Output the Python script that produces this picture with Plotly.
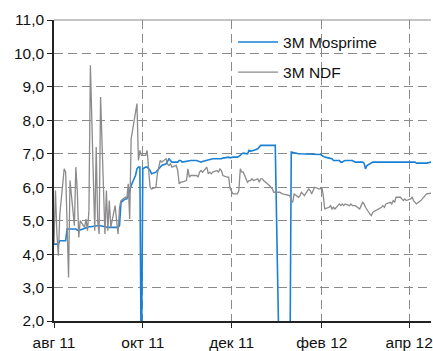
import plotly.graph_objects as go

# 3M MosPrime fixing, % (zero prints on non-fixing days)
mosprime_dates = [
    "2011-08-01", "2011-08-02", "2011-08-03", "2011-08-04", "2011-08-05",
    "2011-08-08", "2011-08-09", "2011-08-10", "2011-08-11", "2011-08-12",
    "2011-08-15", "2011-08-16", "2011-08-17", "2011-08-18", "2011-08-19",
    "2011-08-22", "2011-08-23", "2011-08-24", "2011-08-25", "2011-08-26",
    "2011-08-29", "2011-08-30", "2011-08-31", "2011-09-01", "2011-09-02",
    "2011-09-05", "2011-09-06", "2011-09-07", "2011-09-08", "2011-09-09",
    "2011-09-12", "2011-09-13", "2011-09-14", "2011-09-15", "2011-09-16",
    "2011-09-19", "2011-09-20", "2011-09-21", "2011-09-22", "2011-09-23",
    "2011-09-26", "2011-09-27", "2011-09-28", "2011-09-29", "2011-09-30",
    "2011-10-01", "2011-10-03", "2011-10-04", "2011-10-05", "2011-10-06",
    "2011-10-07", "2011-10-10", "2011-10-11", "2011-10-12", "2011-10-13",
    "2011-10-14", "2011-10-17", "2011-10-18", "2011-10-19", "2011-10-20",
    "2011-10-21", "2011-10-24", "2011-10-25", "2011-10-26", "2011-10-27",
    "2011-10-28", "2011-10-31", "2011-11-01", "2011-11-02", "2011-11-03",
    "2011-11-07", "2011-11-08", "2011-11-09", "2011-11-10", "2011-11-11",
    "2011-11-14", "2011-11-15", "2011-11-16", "2011-11-17", "2011-11-18",
    "2011-11-21", "2011-11-22", "2011-11-23", "2011-11-24", "2011-11-25",
    "2011-11-28", "2011-11-29", "2011-11-30", "2011-12-01", "2011-12-02",
    "2011-12-05", "2011-12-06", "2011-12-07", "2011-12-08", "2011-12-09",
    "2011-12-12", "2011-12-13", "2011-12-14", "2011-12-15", "2011-12-16",
    "2011-12-19", "2011-12-20", "2011-12-21", "2011-12-22", "2011-12-23",
    "2011-12-26", "2011-12-27", "2011-12-28", "2011-12-29", "2011-12-30",
    "2011-12-31", "2012-01-03", "2012-01-10", "2012-01-11", "2012-01-12",
    "2012-01-13", "2012-01-16", "2012-01-17", "2012-01-18", "2012-01-19",
    "2012-01-20", "2012-01-23", "2012-01-24", "2012-01-25", "2012-01-26",
    "2012-01-27", "2012-01-30", "2012-01-31", "2012-02-01", "2012-02-02",
    "2012-02-03", "2012-02-06", "2012-02-07", "2012-02-08", "2012-02-09",
    "2012-02-10", "2012-02-13", "2012-02-14", "2012-02-15", "2012-02-16",
    "2012-02-17", "2012-02-20", "2012-02-21", "2012-02-22", "2012-02-24",
    "2012-02-27", "2012-02-28", "2012-02-29", "2012-03-01", "2012-03-02",
    "2012-03-03", "2012-03-05", "2012-03-06", "2012-03-07", "2012-03-12",
    "2012-03-19", "2012-03-26", "2012-04-02", "2012-04-05", "2012-04-06",
    "2012-04-09", "2012-04-13", "2012-04-16",
]
mosprime_values = [
    4.30, 4.30, 4.30, 4.30, 4.40,
    4.40, 4.40, 4.75, 4.75, 4.75,
    4.75, 4.75, 4.72, 4.70, 4.72,
    4.78, 4.78, 4.80, 4.82, 4.82,
    4.85, 4.85, 4.85, 4.85, 4.85,
    4.82, 4.80, 4.80, 4.80, 4.80,
    4.80, 4.80, 4.80, 4.85, 5.55,
    5.65, 5.65, 5.75, 5.90, 6.05,
    6.35, 6.55, 6.60, 6.60, 0.00,
    6.55, 6.60, 6.60, 6.55, 6.50,
    6.40, 6.45, 6.50, 6.55, 6.60,
    6.65, 6.70, 6.80, 6.85, 6.80,
    6.75, 6.75, 6.75, 6.80, 6.80,
    6.75, 6.78, 6.80, 6.80, 6.80,
    6.80, 6.78, 6.75, 6.75, 6.77,
    6.80, 6.80, 6.82, 6.82, 6.85,
    6.85, 6.85, 6.83, 6.85, 6.87,
    6.90, 6.90, 6.88, 6.90, 6.90,
    6.90, 6.92, 6.95, 7.00, 7.02,
    7.00, 7.10, 7.08, 7.10, 7.10,
    7.15, 7.22, 7.25, 7.25, 7.25,
    7.25, 7.25, 7.25, 7.25, 7.25,
    7.25, 0.00, 0.00, 7.05, 7.05,
    7.03, 7.00, 7.00, 7.00, 7.00,
    6.98, 7.00, 7.00, 7.00, 7.00,
    7.00, 7.00, 6.98, 6.95, 6.92,
    6.90, 6.87, 6.85, 6.85, 6.80,
    6.80, 6.80, 6.75, 6.75, 6.78,
    6.80, 6.80, 6.80, 6.80, 6.75,
    6.75, 6.75, 6.75, 6.72, 6.55,
    6.65, 6.70, 6.72, 6.75, 6.75,
    6.75, 6.75, 6.75, 6.75, 6.72,
    6.72, 6.72, 6.75,
]

# 3M NDF implied yield, %
ndf_dates = [
    "2011-08-01", "2011-08-02", "2011-08-03", "2011-08-04", "2011-08-05",
    "2011-08-08", "2011-08-09", "2011-08-10", "2011-08-11", "2011-08-12",
    "2011-08-15", "2011-08-16", "2011-08-17", "2011-08-18", "2011-08-19",
    "2011-08-22", "2011-08-23", "2011-08-24", "2011-08-25", "2011-08-26",
    "2011-08-29", "2011-08-30", "2011-08-31", "2011-09-01", "2011-09-02",
    "2011-09-05", "2011-09-06", "2011-09-07", "2011-09-08", "2011-09-09",
    "2011-09-12", "2011-09-13", "2011-09-14", "2011-09-15", "2011-09-16",
    "2011-09-19", "2011-09-20", "2011-09-21", "2011-09-22", "2011-09-23",
    "2011-09-26", "2011-09-27", "2011-09-28", "2011-09-29", "2011-09-30",
    "2011-10-03", "2011-10-04", "2011-10-05", "2011-10-06", "2011-10-07",
    "2011-10-10", "2011-10-11", "2011-10-12", "2011-10-13", "2011-10-14",
    "2011-10-17", "2011-10-18", "2011-10-19", "2011-10-20", "2011-10-21",
    "2011-10-24", "2011-10-25", "2011-10-26", "2011-10-27", "2011-10-28",
    "2011-10-31", "2011-11-01", "2011-11-02", "2011-11-03", "2011-11-07",
    "2011-11-08", "2011-11-09", "2011-11-10", "2011-11-11", "2011-11-14",
    "2011-11-15", "2011-11-16", "2011-11-17", "2011-11-18", "2011-11-21",
    "2011-11-22", "2011-11-23", "2011-11-24", "2011-11-25", "2011-11-28",
    "2011-11-29", "2011-11-30", "2011-12-01", "2011-12-02", "2011-12-05",
    "2011-12-06", "2011-12-07", "2011-12-08", "2011-12-09", "2011-12-12",
    "2011-12-13", "2011-12-14", "2011-12-15", "2011-12-16", "2011-12-19",
    "2011-12-20", "2011-12-21", "2011-12-22", "2011-12-23", "2011-12-26",
    "2011-12-27", "2011-12-28", "2011-12-29", "2011-12-30", "2012-01-03",
    "2012-01-05", "2012-01-09", "2012-01-10", "2012-01-11", "2012-01-12",
    "2012-01-13", "2012-01-16", "2012-01-17", "2012-01-18", "2012-01-19",
    "2012-01-20", "2012-01-23", "2012-01-24", "2012-01-25", "2012-01-26",
    "2012-01-27", "2012-01-30", "2012-01-31", "2012-02-01", "2012-02-02",
    "2012-02-03", "2012-02-06", "2012-02-07", "2012-02-08", "2012-02-09",
    "2012-02-10", "2012-02-13", "2012-02-14", "2012-02-15", "2012-02-16",
    "2012-02-17", "2012-02-20", "2012-02-21", "2012-02-22", "2012-02-24",
    "2012-02-27", "2012-02-28", "2012-02-29", "2012-03-01", "2012-03-02",
    "2012-03-05", "2012-03-06", "2012-03-07", "2012-03-09", "2012-03-12",
    "2012-03-13", "2012-03-14", "2012-03-15", "2012-03-16", "2012-03-19",
    "2012-03-20", "2012-03-21", "2012-03-22", "2012-03-23", "2012-03-26",
    "2012-03-27", "2012-03-28", "2012-03-29", "2012-03-30", "2012-04-02",
    "2012-04-03", "2012-04-04", "2012-04-05", "2012-04-06", "2012-04-09",
    "2012-04-10", "2012-04-11", "2012-04-12", "2012-04-13", "2012-04-16",
]
ndf_values = [
    4.30, 5.90, 4.60, 3.95, 5.20,
    6.55, 6.45, 4.90, 3.30, 6.20,
    4.85, 6.60, 5.90, 4.50, 5.00,
    4.80, 5.05, 4.70, 5.30, 9.65,
    4.70, 7.20, 5.00, 4.60, 8.70,
    4.60, 5.90, 4.70, 5.60, 4.80,
    5.45, 5.00, 4.60, 5.40, 5.60,
    5.70, 5.65, 6.10, 5.05, 7.45,
    8.20, 8.50, 6.80, 7.10, 6.95,
    6.95, 7.10, 6.60, 6.00, 5.95,
    6.00, 6.40, 6.60, 6.80, 6.75,
    6.85, 6.70, 6.65, 6.70, 6.60,
    6.65, 6.50, 6.10, 6.15, 6.15,
    6.20, 6.55, 6.30, 6.35, 6.35,
    6.30, 6.45, 6.50, 6.45, 6.60,
    6.40, 6.45, 6.40, 6.45, 6.50,
    6.45, 6.55, 6.50, 6.35, 6.30,
    6.30, 5.95, 5.85, 5.80, 5.80,
    5.90, 6.55, 6.45, 6.45, 6.15,
    6.20, 6.20, 6.25, 6.20, 6.25,
    6.15, 6.25, 6.25, 6.20, 6.10,
    6.05, 6.00, 5.95, 5.85, 5.85,
    5.80, 5.75, 5.75, 5.60, 5.55,
    5.80, 5.70, 5.75, 5.85, 5.80,
    5.75, 5.95, 5.90, 5.80, 5.90,
    6.00, 5.95, 5.95, 6.00, 5.75,
    5.35, 5.40, 5.45, 5.35, 5.40,
    5.35, 5.50, 5.45, 5.50, 5.45,
    5.50, 5.45, 5.50, 5.45, 5.45,
    5.35, 5.45, 5.55, 5.50, 5.40,
    5.20, 5.15, 5.25, 5.30, 5.35,
    5.40, 5.45, 5.40, 5.50, 5.55,
    5.50, 5.60, 5.55, 5.70, 5.70,
    5.65, 5.60, 5.65, 5.60, 5.65,
    5.70, 5.60, 5.55, 5.50, 5.60,
    5.65, 5.70, 5.75, 5.80, 5.82,
]

tick_dates = ["2011-08-01", "2011-10-01", "2011-12-01", "2012-02-01", "2012-04-01"]
tick_labels = ["авг 11", "окт 11", "дек 11", "фев 12", "апр 12"]
y_ticks = [2, 3, 4, 5, 6, 7, 8, 9, 10, 11]

FONT = "Liberation Sans, Arial, sans-serif"
GRID = "#8a8a8a"
DASH = "9px,5px"

fig = go.Figure()
fig.add_trace(go.Scatter(
    x=mosprime_dates, y=mosprime_values, mode="lines", name="3M Mosprime",
    line=dict(color="#1a80d6", width=1.6), legendgroup="a",
))
fig.add_trace(go.Scatter(
    x=ndf_dates, y=ndf_values, mode="lines", name="3M NDF",
    line=dict(color="#8c8a8c", width=1.3), legendgroup="b",
))

fig.update_layout(
    width=433, height=351,
    margin=dict(l=54, r=0, t=20, b=30),
    paper_bgcolor="white", plot_bgcolor="white",
    separators=", ",
    font=dict(family=FONT, size=15.5, color="#111111"),
    showlegend=True,
    legend=dict(
        x=0.475, y=0.982, xanchor="left", yanchor="top",
        bgcolor="rgba(0,0,0,0)", font=dict(size=15.5),
        tracegroupgap=7, itemwidth=40,
    ),
    xaxis=dict(
        type="date", range=["2011-08-01", "2012-04-16"],
        tickvals=tick_dates, ticktext=tick_labels,
        ticklabeloverflow="allow", ticklabelstandoff=2,
        showgrid=True, gridcolor=GRID, griddash=DASH, gridwidth=1,
        showline=True, linecolor="#222222", linewidth=1.5,
        ticks="outside", ticklen=5, tickcolor="#222222",
        zeroline=False,
    ),
    yaxis=dict(
        range=[2, 11], tickvals=y_ticks, tickformat=".1f",
        showgrid=True, gridcolor=GRID, griddash=DASH, gridwidth=1,
        showline=True, linecolor="#222222", linewidth=1.5,
        ticks="outside", ticklen=5, tickcolor="#222222",
        zeroline=False,
    ),
    shapes=[dict(
        type="line", xref="paper", yref="paper", x0=0, x1=1, y0=1, y1=1,
        line=dict(color="#8a8a8a", width=1.2),
    )],
)

fig.write_html("out.html")
